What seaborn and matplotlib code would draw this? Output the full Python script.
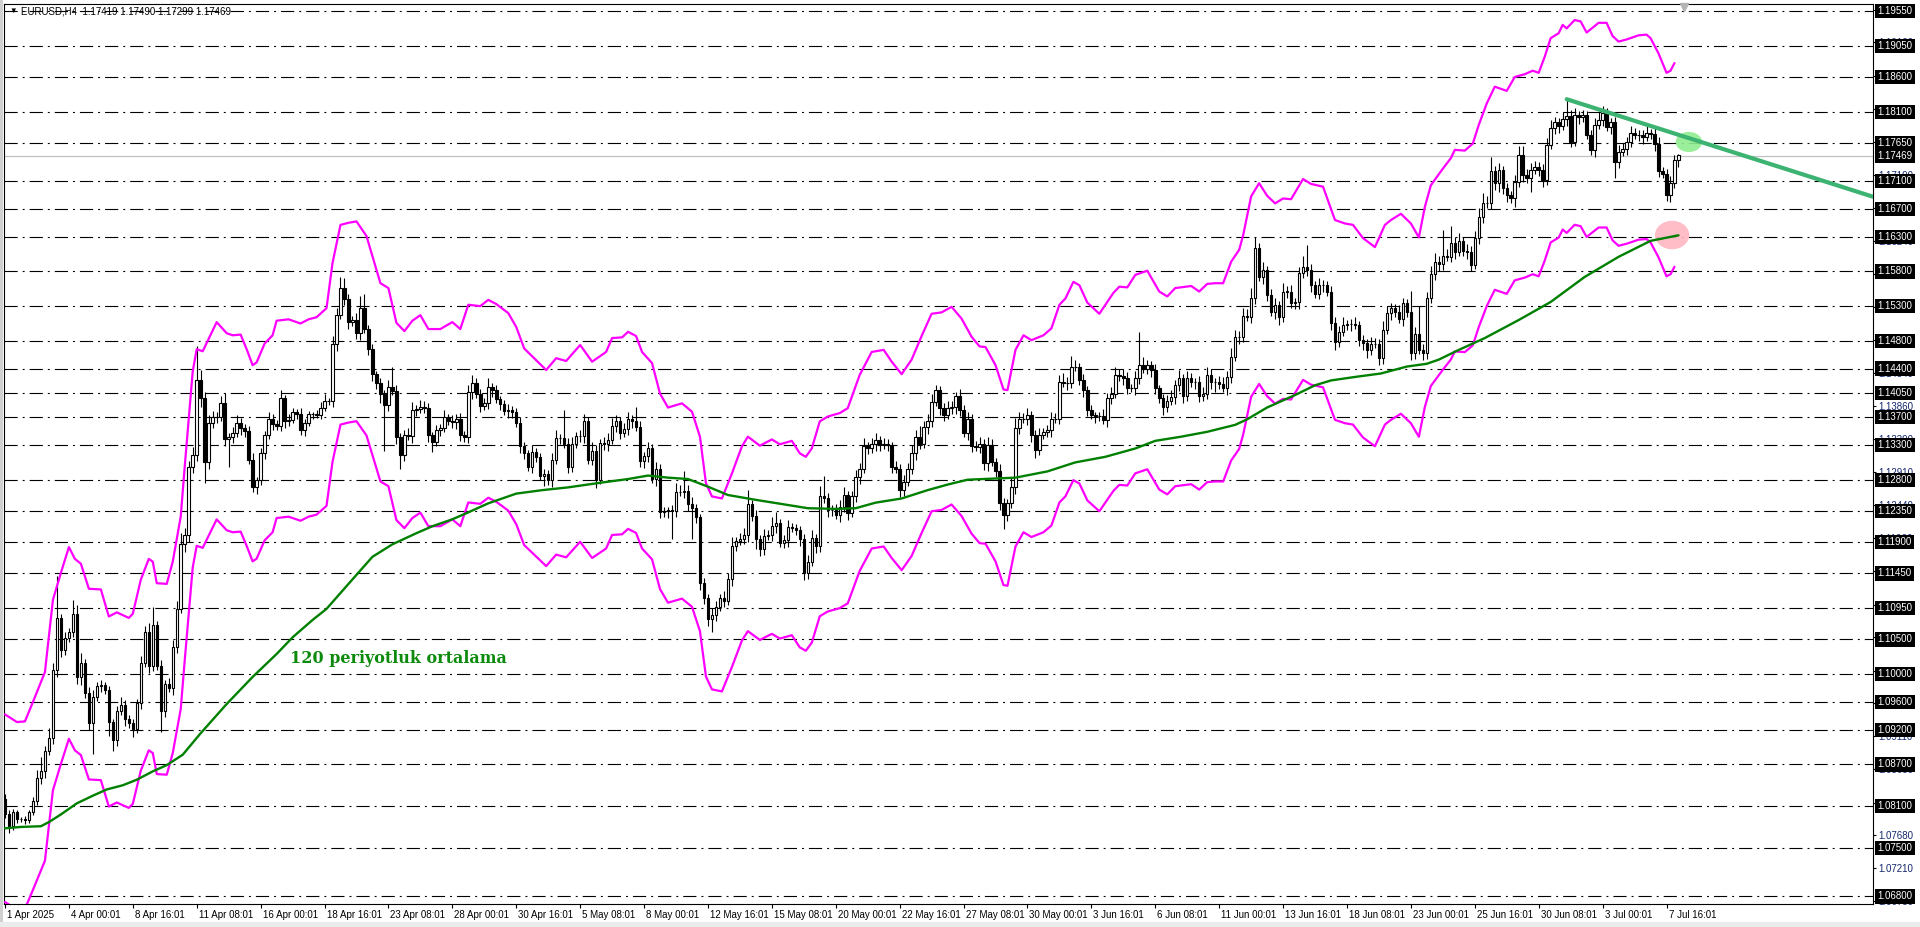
import matplotlib
matplotlib.use("Agg")
import matplotlib.pyplot as plt
import matplotlib.transforms as mtransforms
from matplotlib.patches import Ellipse, Rectangle
import numpy as np
import seaborn as sns

# EURUSD H4, 1 Apr 2025 - 8 Jul 2025
first_open = 1.0820
closes = [
    1.0798, 1.0781, 1.0801, 1.0791, 1.0791, 1.0790, 1.0801, 1.0817, 1.0850, 1.0860, 1.0889, 1.0908, 1.1006, 1.1081, 1.1035, 1.1052, 1.1061, 1.1087, 1.0996, 1.1016,
    1.0973, 1.0930, 1.0967, 1.0983, 1.0985, 1.0977, 1.0931, 1.0905, 1.0947, 1.0955, 1.0936, 1.0930, 1.0921, 1.0958, 1.1016, 1.1061, 1.1012, 1.1071, 1.1012, 1.0947,
    1.0986, 1.0980, 1.1039, 1.1094, 1.1188, 1.1201, 1.1299, 1.1315, 1.1423, 1.1397, 1.1305, 1.1361, 1.1371, 1.1370, 1.1390, 1.1338, 1.1341, 1.1348, 1.1361, 1.1354,
    1.1350, 1.1309, 1.1270, 1.1279, 1.1318, 1.1344, 1.1367, 1.1360, 1.1358, 1.1397, 1.1364, 1.1366, 1.1377, 1.1375, 1.1351, 1.1362, 1.1374, 1.1374, 1.1373, 1.1384,
    1.1393, 1.1393, 1.1475, 1.1517, 1.1556, 1.1540, 1.1507, 1.1510, 1.1491, 1.1527, 1.1497, 1.1468, 1.1432, 1.1419, 1.1403, 1.1387, 1.1413, 1.1408, 1.1341, 1.1315,
    1.1344, 1.1343, 1.1380, 1.1382, 1.1385, 1.1384, 1.1344, 1.1335, 1.1351, 1.1354, 1.1370, 1.1365, 1.1363, 1.1368, 1.1344, 1.1341, 1.1406, 1.1419, 1.1404, 1.1386,
    1.1390, 1.1414, 1.1409, 1.1396, 1.1389, 1.1379, 1.1381, 1.1377, 1.1362, 1.1328, 1.1318, 1.1299, 1.1320, 1.1313, 1.1286, 1.1288, 1.1280, 1.1309, 1.1340, 1.1340,
    1.1332, 1.1299, 1.1331, 1.1343, 1.1343, 1.1365, 1.1309, 1.1322, 1.1280, 1.1333, 1.1331, 1.1337, 1.1357, 1.1365, 1.1348, 1.1353, 1.1367, 1.1365, 1.1356, 1.1307,
    1.1314, 1.1326, 1.1281, 1.1295, 1.1233, 1.1235, 1.1236, 1.1235, 1.1263, 1.1262, 1.1264, 1.1245, 1.1239, 1.1226, 1.1131, 1.1109, 1.1080, 1.1085, 1.1097, 1.1110,
    1.1105, 1.1137, 1.1185, 1.1192, 1.1195, 1.1200, 1.1245, 1.1228, 1.1195, 1.1180, 1.1199, 1.1200, 1.1214, 1.1218, 1.1189, 1.1193, 1.1212, 1.1211, 1.1208, 1.1194,
    1.1145, 1.1162, 1.1196, 1.1184, 1.1256, 1.1253, 1.1236, 1.1237, 1.1229, 1.1241, 1.1258, 1.1232, 1.1256, 1.1284, 1.1296, 1.1328, 1.1325, 1.1332, 1.1337, 1.1330,
    1.1332, 1.1330, 1.1299, 1.1296, 1.1265, 1.1277, 1.1296, 1.1318, 1.1342, 1.1332, 1.1356, 1.1364, 1.1392, 1.1409, 1.1383, 1.1373, 1.1383, 1.1385, 1.1400, 1.1380,
    1.1347, 1.1368, 1.1328, 1.1327, 1.1332, 1.1304, 1.1330, 1.1306, 1.1292, 1.1246, 1.1229, 1.1246, 1.1270, 1.1354, 1.1368, 1.1367, 1.1373, 1.1344, 1.1323, 1.1344,
    1.1349, 1.1351, 1.1368, 1.1368, 1.1421, 1.1419, 1.1420, 1.1443, 1.1442, 1.1424, 1.1409, 1.1380, 1.1373, 1.1372, 1.1372, 1.1366, 1.1397, 1.1404, 1.1431, 1.1430,
    1.1427, 1.1412, 1.1412, 1.1426, 1.1445, 1.1440, 1.1445, 1.1438, 1.1412, 1.1397, 1.1385, 1.1394, 1.1399, 1.1416, 1.1426, 1.1400, 1.1426, 1.1421, 1.1421, 1.1400,
    1.1404, 1.1431, 1.1421, 1.1421, 1.1418, 1.1412, 1.1428, 1.1457, 1.1486, 1.1486, 1.1516, 1.1515, 1.1541, 1.1613, 1.1572, 1.1582, 1.1546, 1.1522, 1.1531, 1.1515,
    1.1551, 1.1551, 1.1534, 1.1536, 1.1577, 1.1587, 1.1582, 1.1560, 1.1548, 1.1560, 1.1560, 1.1551, 1.1505, 1.1479, 1.1493, 1.1503, 1.1504, 1.1504, 1.1503, 1.1481,
    1.1477, 1.1467, 1.1476, 1.1476, 1.1455, 1.1496, 1.1520, 1.1527, 1.1522, 1.1512, 1.1534, 1.1522, 1.1462, 1.1490, 1.1467, 1.1462, 1.1541, 1.1576, 1.1594, 1.1590,
    1.1602, 1.1601, 1.1621, 1.1608, 1.1624, 1.1610, 1.1608, 1.1589, 1.1628, 1.1659, 1.1678, 1.1678, 1.1724, 1.1707, 1.1726, 1.1700, 1.1690, 1.1685, 1.1709, 1.1748,
    1.1719, 1.1715, 1.1726, 1.1731, 1.1726, 1.1712, 1.1762, 1.1786, 1.1795, 1.1789, 1.1800, 1.1804, 1.1767, 1.1805, 1.1803, 1.1805, 1.1776, 1.1755, 1.1791, 1.1798,
    1.1808, 1.1788, 1.1795, 1.1737, 1.1752, 1.1757, 1.1767, 1.1779, 1.1777, 1.1776, 1.1774, 1.1779, 1.1778, 1.1764, 1.1724, 1.1720, 1.1690, 1.1708, 1.1740, 1.1747,
]
# wick lengths in pips above / below the body
upper_wick = [
    8, 6, 5, 4, 3, 5, 4, 6, 12, 20, 8, 15, 10, 60, 6, 8, 5, 20, 12, 15,
    6, 8, 10, 5, 6, 4, 6, 5, 7, 12, 8, 5, 6, 6, 10, 8, 12, 25, 6, 8,
    6, 8, 10, 12, 15, 10, 8, 12, 50, 15, 10, 12, 8, 6, 10, 15, 6, 8, 12, 8,
    6, 8, 10, 5, 8, 6, 10, 8, 6, 12, 5, 8, 6, 5, 8, 6, 5, 4, 6, 8,
    10, 5, 12, 10, 16, 14, 8, 6, 10, 18, 20, 6, 8, 5, 8, 6, 10, 30, 8, 6,
    8, 10, 12, 6, 10, 8, 6, 5, 8, 6, 10, 5, 8, 6, 8, 6, 10, 12, 8, 6,
    8, 12, 6, 8, 5, 6, 8, 5, 6, 8, 6, 5, 10, 6, 5, 8, 6, 10, 12, 6,
    40, 8, 10, 6, 8, 10, 6, 12, 8, 6, 8, 10, 12, 8, 6, 8, 10, 6, 20, 8,
    6, 8, 6, 10, 8, 6, 5, 8, 12, 10, 28, 8, 10, 6, 5, 8, 6, 10, 8, 6,
    10, 8, 12, 6, 8, 10, 20, 6, 8, 5, 10, 8, 12, 15, 6, 8, 10, 6, 5, 6,
    8, 10, 12, 6, 15, 30, 8, 6, 8, 10, 12, 6, 8, 10, 8, 12, 6, 8, 10, 6,
    8, 6, 5, 8, 6, 10, 8, 12, 10, 15, 8, 10, 12, 8, 6, 8, 10, 8, 6, 10,
    8, 10, 6, 8, 10, 6, 12, 8, 6, 10, 8, 6, 12, 15, 10, 8, 10, 6, 8, 10,
    6, 8, 10, 8, 10, 12, 8, 15, 10, 6, 8, 6, 8, 5, 6, 10, 8, 10, 12, 8,
    10, 8, 6, 10, 48, 12, 8, 6, 8, 5, 6, 8, 10, 8, 12, 6, 10, 8, 6, 8,
    10, 12, 8, 6, 8, 10, 8, 12, 10, 8, 12, 10, 15, 17, 8, 12, 6, 8, 10, 6,
    12, 8, 10, 6, 10, 15, 31, 8, 6, 10, 8, 6, 8, 10, 8, 12, 6, 8, 10, 6,
    8, 6, 10, 8, 6, 12, 10, 8, 6, 10, 8, 6, 30, 10, 40, 8, 10, 12, 12, 8,
    38, 10, 25, 8, 12, 6, 10, 8, 10, 12, 15, 10, 21, 8, 10, 6, 8, 6, 10, 12,
    12, 8, 10, 8, 6, 8, 10, 12, 8, 6, 10, 23, 8, 10, 6, 8, 6, 8, 10, 12,
    10, 8, 6, 8, 10, 8, 6, 10, 8, 6, 8, 10, 6, 8, 10, 6, 8, 10, 8, 2,
]
lower_wick = [
    5, 10, 6, 5, 4, 6, 5, 4, 6, 8, 10, 6, 8, 10, 10, 8, 6, 8, 10, 12,
    8, 10, 45, 6, 8, 5, 20, 15, 8, 6, 10, 8, 12, 6, 8, 6, 10, 8, 6, 30,
    8, 6, 10, 8, 6, 12, 10, 10, 8, 12, 30, 10, 6, 8, 6, 10, 40, 8, 6, 10,
    8, 6, 8, 10, 6, 8, 5, 8, 6, 8, 10, 6, 5, 8, 6, 8, 5, 6, 4, 6,
    5, 6, 8, 10, 6, 8, 10, 6, 8, 10, 6, 8, 10, 8, 12, 65, 8, 6, 10, 20,
    8, 6, 10, 8, 6, 8, 10, 15, 6, 8, 5, 6, 8, 10, 8, 6, 8, 10, 6, 8,
    6, 8, 10, 6, 8, 6, 10, 8, 6, 10, 8, 6, 10, 8, 6, 15, 8, 10, 6, 8,
    6, 10, 8, 6, 8, 10, 6, 8, 12, 6, 8, 10, 6, 8, 10, 6, 8, 10, 6, 8,
    10, 8, 6, 10, 8, 6, 10, 40, 8, 6, 8, 10, 45, 8, 10, 8, 10, 20, 8, 6,
    8, 6, 10, 8, 6, 8, 10, 8, 15, 10, 8, 6, 8, 10, 6, 8, 10, 6, 8, 10,
    10, 8, 6, 10, 8, 6, 10, 8, 6, 10, 8, 10, 6, 8, 10, 6, 8, 6, 10, 8,
    6, 8, 10, 6, 10, 8, 6, 8, 10, 8, 6, 10, 8, 6, 10, 8, 6, 8, 10, 8,
    6, 10, 8, 6, 8, 10, 12, 6, 8, 10, 20, 8, 6, 10, 8, 6, 8, 10, 12, 8,
    6, 8, 10, 6, 8, 6, 10, 8, 6, 8, 10, 8, 6, 10, 8, 6, 10, 8, 6, 8,
    10, 8, 6, 10, 8, 6, 8, 10, 8, 6, 12, 8, 6, 10, 8, 10, 6, 8, 10, 8,
    6, 8, 10, 15, 8, 6, 10, 8, 6, 10, 8, 6, 10, 8, 6, 10, 8, 6, 10, 12,
    8, 10, 6, 8, 10, 6, 8, 10, 6, 8, 10, 6, 10, 12, 8, 6, 8, 10, 6, 8,
    10, 12, 8, 6, 10, 8, 6, 10, 8, 6, 10, 8, 10, 8, 6, 10, 8, 6, 8, 10,
    8, 6, 8, 10, 6, 8, 10, 8, 6, 8, 10, 6, 8, 10, 12, 8, 10, 6, 12, 8,
    10, 8, 20, 6, 8, 10, 8, 6, 8, 10, 6, 10, 8, 6, 10, 8, 6, 8, 10, 6,
    8, 6, 10, 23, 8, 6, 10, 8, 6, 8, 10, 6, 8, 10, 8, 6, 8, 10, 8, 10,
]

# envelope indicator, upper line (bar index, price); lower line is the mirror
env_bar = [
    0, 3, 5, 7, 10, 12, 14, 16, 17.5, 19,
    21, 24, 26, 28, 31, 32, 34, 36, 37, 38,
    40.5, 42, 44, 45, 47, 48, 49.5, 53, 55.5, 57,
    59, 60.5, 62, 63, 65, 67, 68, 71, 74, 76,
    78, 80.5, 82, 84, 86, 88, 90.5, 94, 96, 98,
    100, 102, 104, 106, 109, 112, 114, 116, 119, 121,
    123, 126, 128, 130, 132.5, 135.5, 138, 140.5, 144, 147,
    150.5, 152, 154.5, 156, 158, 159.5, 162, 164, 166, 169.5,
    172, 174, 175.5, 177, 179.5, 182, 184.5, 186, 189, 192,
    194, 197, 199, 200.5, 202, 204, 206, 209, 211, 214,
    217, 220, 222, 224.5, 227, 229.5, 232, 234.5, 237, 239.5,
    242, 244, 245.5, 248, 250, 251, 253, 255, 257, 260,
    262, 264, 265.5, 267.5, 269, 271, 274, 277.5, 279, 281,
    283, 286, 289, 291, 293, 297, 299, 301, 303, 305,
    307, 309, 310, 312, 314, 316, 318, 320, 322, 325,
    327, 330, 333, 335.5, 337.5, 340, 343, 345.5, 347, 349.5,
    352, 354, 355.5, 357, 358, 360, 362, 363, 365.5, 367.5,
    369, 371, 373, 376, 378, 380.5, 382.5, 384, 385.5, 387,
    389, 390, 391, 393, 394.5, 396, 399, 401, 402.5, 404,
    406, 409, 411, 412, 414, 416, 417, 418,
]
env_upper = [
    1.0942, 1.0931, 1.0932, 1.0960, 1.1003, 1.1107, 1.1146, 1.1183, 1.1166, 1.1159,
    1.1123, 1.1122, 1.1083, 1.1089, 1.1081, 1.1087, 1.1136, 1.1166, 1.1162, 1.1131,
    1.1130, 1.1162, 1.1227, 1.1299, 1.1436, 1.1468, 1.1465, 1.1507, 1.1491, 1.1488,
    1.1489, 1.1468, 1.1445, 1.1449, 1.1476, 1.1488, 1.1509, 1.1511, 1.1505, 1.1511,
    1.1514, 1.1527, 1.1592, 1.1647, 1.1650, 1.1652, 1.1631, 1.1563, 1.1556, 1.1506,
    1.1494, 1.1509, 1.1517, 1.1497, 1.1497, 1.1507, 1.1497, 1.1532, 1.1530, 1.1539,
    1.1533, 1.1520, 1.1500, 1.1469, 1.1455, 1.1438, 1.1455, 1.1451, 1.1474, 1.1450,
    1.1464, 1.1484, 1.1485, 1.1493, 1.1487, 1.1464, 1.1448, 1.1404, 1.1384, 1.1390,
    1.1378, 1.1342, 1.1275, 1.1256, 1.1253, 1.1289, 1.1328, 1.1342, 1.1329, 1.1338,
    1.1331, 1.1336, 1.1318, 1.1313, 1.1325, 1.1364, 1.1371, 1.1376, 1.1383, 1.1431,
    1.1464, 1.1467, 1.1450, 1.1432, 1.1453, 1.1487, 1.1519, 1.1521, 1.1529, 1.1512,
    1.1486, 1.1472, 1.1471, 1.1445, 1.1410, 1.1409, 1.1467, 1.1488, 1.1481, 1.1488,
    1.1498, 1.1532, 1.1541, 1.1565, 1.1560, 1.1535, 1.1519, 1.1549, 1.1558, 1.1557,
    1.1575, 1.1581, 1.1551, 1.1544, 1.1556, 1.1559, 1.1551, 1.1562, 1.1563, 1.1563,
    1.1594, 1.1611, 1.1632, 1.1688, 1.1707, 1.1689, 1.1678, 1.1685, 1.1684, 1.1713,
    1.1706, 1.1702, 1.1654, 1.1649, 1.1647, 1.1628, 1.1615, 1.1647, 1.1654, 1.1663,
    1.1649, 1.1629, 1.1673, 1.1704, 1.1712, 1.1728, 1.1743, 1.1755, 1.1754, 1.1764,
    1.1791, 1.1822, 1.1846, 1.1840, 1.1860, 1.1864, 1.1869, 1.1866, 1.1889, 1.1916,
    1.1923, 1.1935, 1.1930, 1.1942, 1.1940, 1.1924, 1.1938, 1.1938, 1.1919, 1.1911,
    1.1914, 1.1920, 1.1921, 1.1916, 1.1894, 1.1866, 1.1869, 1.1880,
]
env_dev = 0.0125

# 120 period moving average
ma_bar = [0, 4, 9, 11, 14, 18, 22, 25.5, 29.5, 33, 37, 40.5, 44.5, 49, 55.5, 62, 68, 72, 77, 80.5,
          86, 92, 97, 103, 107, 112, 116, 121, 128, 134.5, 141, 149.5, 156, 161, 166, 171, 176, 181, 188, 194.5,
          201, 208, 213, 218, 224.5, 231, 236, 241, 249, 253, 261, 268, 275.5, 283, 288, 294.5, 301, 308, 311, 316,
          323, 328, 332, 338, 344.5, 351, 356, 359, 364, 370.5, 379, 387, 395.5, 404, 412, 419]
ma_val = [1.0778, 1.0780, 1.0781, 1.0787, 1.0798, 1.0814, 1.0825, 1.0834, 1.0840, 1.0848, 1.0860, 1.0869, 1.0884, 1.0915, 1.0957, 1.0996, 1.1029, 1.1053, 1.1078, 1.1094,
          1.1130, 1.1169, 1.1187, 1.1203, 1.1213, 1.1223, 1.1233, 1.1246, 1.1260, 1.1265, 1.1269, 1.1276, 1.1281, 1.1286, 1.1283, 1.1281, 1.1270, 1.1258, 1.1251, 1.1245,
          1.1239, 1.1238, 1.1239, 1.1247, 1.1253, 1.1265, 1.1273, 1.1280, 1.1282, 1.1283, 1.1292, 1.1305, 1.1313, 1.1325, 1.1336, 1.1342, 1.1349, 1.1359, 1.1367, 1.1384,
          1.1402, 1.1416, 1.1423, 1.1428, 1.1433, 1.1443, 1.1447, 1.1453, 1.1467, 1.1484, 1.1510, 1.1536, 1.1572, 1.1601, 1.1624, 1.1632]

# user drawn trend line
trend_bar = [391, 468]
trend_val = [1.1828, 1.1687]

level_lines = [1.19550, 1.19050, 1.18600, 1.18100, 1.17650, 1.17100, 1.16700, 1.16300, 1.15800, 1.15300,
               1.14800, 1.14400, 1.14050, 1.13700, 1.13300, 1.12800, 1.12350, 1.11900, 1.11450, 1.10950,
               1.10500, 1.10000, 1.09600, 1.09200, 1.08700, 1.08100, 1.07500, 1.06800]
axis_prices = [1.19570, 1.19100, 1.18620, 1.18140, 1.17670, 1.17190, 1.16720, 1.16240, 1.15760, 1.15290,
               1.14810, 1.14340, 1.13860, 1.13390, 1.12910, 1.12440, 1.11960, 1.11480, 1.11000, 1.10530,
               1.10050, 1.09580, 1.09110, 1.08630, 1.08150, 1.07680, 1.07210, 1.06730]
last_price = 1.17469
header = "EURUSD,H4  1.17419 1.17490 1.17299 1.17469"

date_labels = ["1 Apr 2025", "4 Apr 00:01", "8 Apr 16:01", "11 Apr 08:01", "16 Apr 00:01", "18 Apr 16:01",
               "23 Apr 08:01", "28 Apr 00:01", "30 Apr 16:01", "5 May 08:01", "8 May 00:01", "12 May 16:01",
               "15 May 08:01", "20 May 00:01", "22 May 16:01", "27 May 08:01", "30 May 00:01", "3 Jun 16:01",
               "6 Jun 08:01", "11 Jun 00:01", "13 Jun 16:01", "18 Jun 08:01", "23 Jun 00:01", "25 Jun 16:01",
               "30 Jun 08:01", "3 Jul 00:01", "7 Jul 16:01"]
bars_per_label = 16

sns.set_style("white")
plt.rcParams['font.family'] = ['Liberation Sans', 'DejaVu Sans']
plt.rcParams['lines.scale_dashes'] = False

W, H = 1920, 927
fig = plt.figure(figsize=(W / 100, H / 100), dpi=100)
fig.patch.set_facecolor("white")
ax = fig.add_axes([4 / W, 23 / H, 1869 / W, 900 / H])
ax.set_facecolor("white")

px_bar = 3.994
ax.set_xlim(-1 / px_bar, -1 / px_bar + 1869 / px_bar)
ax.set_ylim(1.06690, 1.19651)

# horizontal levels
for lv in level_lines:
    ax.axhline(lv, color="black", lw=0.8, dashes=(9.5, 3.6, 1.4, 3.6), zorder=1)
ax.axhline(last_price, color="#c0c0c0", lw=0.9, zorder=1.2)

# candles
n = len(closes)
idx = np.arange(n)
c = np.array(closes)
o = np.r_[first_open, c[:-1]]
hi = np.maximum(o, c) + np.array(upper_wick) * 1e-4
lo = np.minimum(o, c) - np.array(lower_wick) * 1e-4
bull = c >= o
ax.vlines(idx, lo, hi, color="black", lw=0.8, zorder=3)
body = np.maximum(np.abs(c - o), 1e-5)
ax.bar(idx, body, bottom=np.minimum(o, c), width=0.62,
       color=np.where(bull, "white", "black"), edgecolor="black", linewidth=0.8, zorder=4)

# highlight marks
ax.add_patch(Ellipse((421.6, 1.17664), 6.6, 0.0029, color="#90ee90", alpha=0.9, lw=0, zorder=2))
ax.add_patch(Ellipse((417.4, 1.16324), 8.6, 0.0041, color="#ffb6c1", alpha=0.9, lw=0, zorder=2))

# indicators
env_up = np.array(env_upper)
env_lo = env_up * (1 - env_dev) / (1 + env_dev)
sns.lineplot(x=env_bar, y=env_up, color="#ff00ff", lw=1.6, ax=ax, sort=False, estimator=None, zorder=5)
sns.lineplot(x=env_bar, y=env_lo, color="#ff00ff", lw=1.6, ax=ax, sort=False, estimator=None, zorder=5)
sns.lineplot(x=ma_bar, y=ma_val, color="#008000", lw=1.7, ax=ax, sort=False, estimator=None, zorder=5)
sns.lineplot(x=trend_bar, y=trend_val, color="#3cb371", lw=3.0, ax=ax, sort=False, estimator=None, zorder=6)

ax.text(71.4, 1.1023, "120 periyotluk ortalama", color="#0c8a0c", fontsize=11.5,
        fontweight="bold", family=["DejaVu Serif"], va="center", ha="left", zorder=7)

# axes
for s in ax.spines.values():
    s.set_color("black")
    s.set_linewidth(0.8)
ax.set_xlabel("")
ax.set_ylabel("")
ax.set_xticks(np.arange(len(date_labels)) * bars_per_label)
ax.set_xticklabels(date_labels)
ax.tick_params(axis="x", length=2.6, width=0.8, pad=1.6, labelsize=7, colors="black", direction="out", bottom=True)
off = mtransforms.ScaledTranslation(2 / 100, 0, fig.dpi_scale_trans)
for lab in ax.get_xticklabels():
    lab.set_ha("left")
    lab.set_transform(lab.get_transform() + off)

ax.yaxis.tick_right()
ax.set_yticks(axis_prices)
ax.set_yticklabels([f"{v:.5f}" for v in axis_prices])
ax.tick_params(axis="y", right=True, left=False, length=2.2, width=0.8, pad=1.8, labelsize=7,
               labelcolor="#14286e", color="black", direction="out")

ytr = ax.get_yaxis_transform() + mtransforms.ScaledTranslation(4.6 / 100, 0, fig.dpi_scale_trans)
for lv in level_lines + [last_price]:
    ax.text(1.0, lv, f"{lv:.5f}", transform=ytr, color="white", fontsize=7, ha="left", va="center",
            clip_on=False, zorder=20,
            bbox=dict(boxstyle="square,pad=0.22", fc="black", ec="none"))

# shift marker and header
ax.plot([n + 0.5], [1.19608], marker="v", color="#b4b4b4", ms=6, clip_on=False, zorder=8)
fig.text(9 / W, 1 - 11 / H, "\u25bc", fontsize=5.5, va="center", ha="left", color="black")
fig.text(21 / W, 1 - 11 / H, header, fontsize=7, va="center", ha="left", color="black")

# window frame
fig.patches.append(Rectangle((0, 0), 3 / W, 1, transform=fig.transFigure, fc="#d0d0d0", ec="none", zorder=0))
fig.patches.append(Rectangle((0, 0), 1, 5 / H, transform=fig.transFigure, fc="#ececec", ec="none", zorder=0))

fig.savefig("out.png", dpi=100, facecolor="white")
